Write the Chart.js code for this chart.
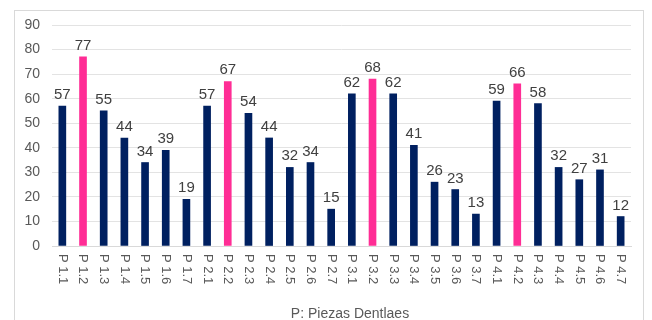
<!DOCTYPE html>
<html>
<head>
<meta charset="utf-8">
<script src="https://cdn.jsdelivr.net/npm/chart.js@4/dist/chart.umd.min.js"></script>
<style>
  html, body { margin: 0; padding: 0; background: #ffffff; }
  #wrap { position: relative; width: 652px; height: 320px; overflow: hidden; }
  #frame { position: absolute; left: 14px; top: 10px; width: 630px; height: 330px;
           border: 1px solid #d9d9d9; box-sizing: border-box; }
  canvas { position: absolute; left: 0; top: 0; }
</style>
</head>
<body>
<div id="wrap">
  <div id="frame"></div>
  <canvas id="c" width="652" height="320"></canvas>
</div>
<script>
// Piezas dentales: one bar per tooth position
const categories = [
  'P 1.1','P 1.2','P 1.3','P 1.4','P 1.5','P 1.6','P 1.7',
  'P 2.1','P 2.2','P 2.3','P 2.4','P 2.5','P 2.6','P 2.7',
  'P 3.1','P 3.2','P 3.3','P 3.4','P 3.5','P 3.6','P 3.7',
  'P 4.1','P 4.2','P 4.3','P 4.4','P 4.5','P 4.6','P 4.7'
];
const values = [
  57, 77, 55, 44, 34, 39, 19,
  57, 67, 54, 44, 32, 34, 15,
  62, 68, 62, 41, 26, 23, 13,
  59, 66, 58, 32, 27, 31, 12
];
// second tooth of each quadrant is highlighted
const highlighted = ['P 1.2', 'P 2.2', 'P 3.2', 'P 4.2'];
const yTicks = [0, 10, 20, 30, 40, 50, 60, 70, 80, 90];
const axisTitle = 'P: Piezas Dentlaes';

const NAVY = '#002060';
const PINK = '#ff2d95';
const TEXT = '#595959';

const barColors = categories.map(c => highlighted.includes(c) ? PINK : NAVY);

// value labels above bars, rotated category labels and the axis caption
const labelsPlugin = {
  id: 'labels',
  afterDatasetsDraw(chart) {
    const ctx = chart.ctx;
    const meta = chart.getDatasetMeta(0);
    const xScale = chart.scales.x;
    ctx.save();
    ctx.fillStyle = '#404040';
    ctx.font = '15px "Liberation Sans", Arial, sans-serif';
    ctx.textAlign = 'center';
    ctx.textBaseline = 'alphabetic';
    meta.data.forEach((bar, i) => {
      ctx.fillText(String(values[i]), bar.x, bar.y - 7);
    });

    ctx.fillStyle = TEXT;
    ctx.font = '13px "Liberation Sans", Arial, sans-serif';
    ctx.textAlign = 'left';
    ctx.textBaseline = 'middle';
    categories.forEach((lab, i) => {
      const x = xScale.getPixelForTick(i);
      ctx.save();
      ctx.translate(x, xScale.top + 8);
      ctx.rotate(Math.PI / 2);
      ctx.fillText(lab, 0, 0);
      ctx.restore();
    });

    ctx.font = '14px "Liberation Sans", Arial, sans-serif';
    ctx.textAlign = 'center';
    ctx.fillText(axisTitle, 350, 314);
    ctx.restore();
  }
};

new Chart(document.getElementById('c'), {
  type: 'bar',
  data: {
    labels: categories,
    datasets: [{
      data: values,
      backgroundColor: barColors,
      barThickness: 7
    }]
  },
  options: {
    responsive: false,
    animation: false,
    devicePixelRatio: 1,
    layout: { padding: { top: 25, right: 21, bottom: 0, left: 0 } },
    plugins: { legend: { display: false }, tooltip: { enabled: false } },
    scales: {
      x: {
        afterFit: s => { s.height = 74; },
        ticks: { display: false },
        grid: { display: false, drawTicks: false },
        border: { display: true, color: '#d9d9d9', width: 1 }
      },
      y: {
        min: 0,
        max: 90,
        afterFit: s => { s.width = 52; },
        afterBuildTicks: s => { s.ticks = yTicks.map(v => ({ value: v })); },
        ticks: {
          color: TEXT,
          font: { size: 14, family: '"Liberation Sans", Arial, sans-serif' },
          padding: 12
        },
        grid: { color: '#e3e3e3', drawTicks: false },
        border: { display: false }
      }
    }
  },
  plugins: [labelsPlugin]
});
</script>
</body>
</html>
